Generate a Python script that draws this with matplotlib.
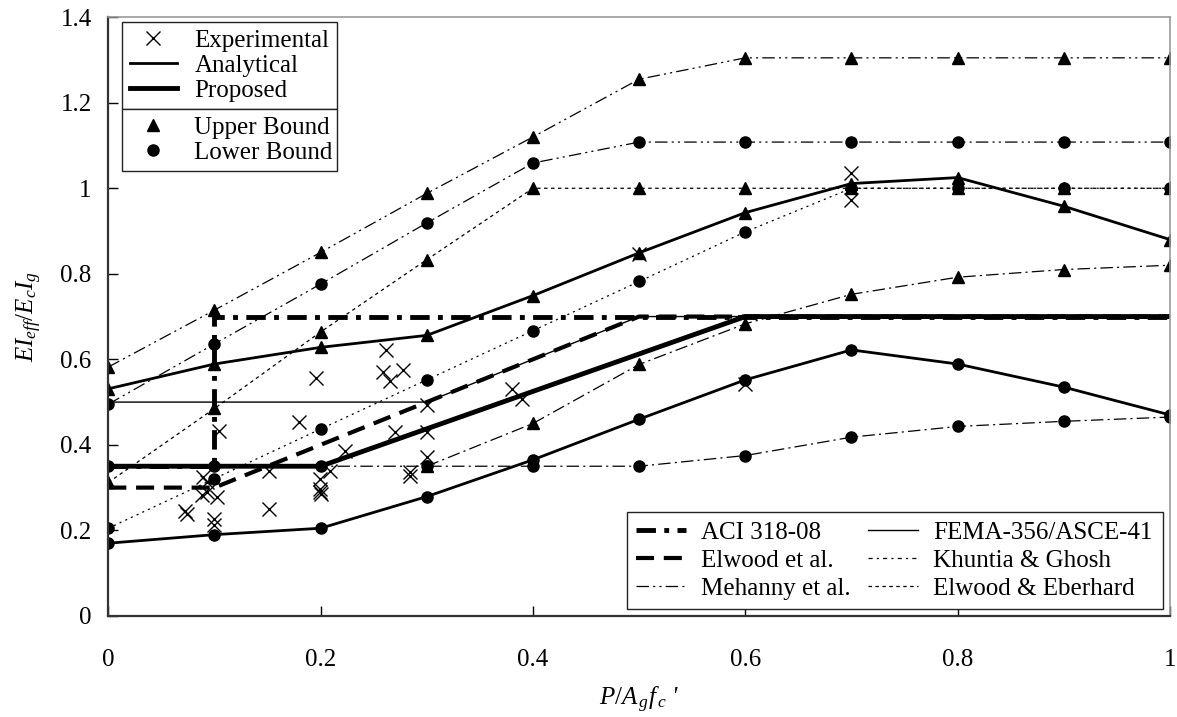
import matplotlib
matplotlib.use("Agg")
import matplotlib.pyplot as plt
from matplotlib.lines import Line2D
from matplotlib.ticker import FuncFormatter

plt.rcParams['font.family'] = ['Liberation Serif', 'DejaVu Serif']
plt.rcParams['mathtext.fontset'] = 'custom'
plt.rcParams['mathtext.rm'] = 'Liberation Serif'
plt.rcParams['mathtext.it'] = 'Liberation Serif:italic'
plt.rcParams['lines.scale_dashes'] = False

# axial load ratio grid used by the bound curves
p_ratio = [0, 0.1, 0.2, 0.3, 0.4, 0.5, 0.6, 0.7, 0.8, 0.9, 1.0]

# analytical bounds
analytical_upper = [0.531, 0.589, 0.628, 0.656, 0.749, 0.849, 0.943, 1.011, 1.025, 0.958, 0.88]
analytical_lower = [0.17, 0.19, 0.205, 0.279, 0.365, 0.46, 0.552, 0.622, 0.589, 0.535, 0.47]

# Mehanny et al.
mehanny_upper = [0.582, 0.715, 0.85, 0.988, 1.12, 1.255, 1.305, 1.305, 1.305, 1.305, 1.305]
mehanny_lower = [0.495, 0.636, 0.776, 0.919, 1.059, 1.108, 1.108, 1.108, 1.108, 1.108, 1.108]

# Elwood & Eberhard
ee_upper = [0.312, 0.485, 0.664, 0.833, 1.0, 1.0, 1.0, 1.0, 1.0, 1.0, 1.0]
ee_lower = [0.205, 0.321, 0.437, 0.552, 0.667, 0.782, 0.898, 1.0, 1.0, 1.0, 1.0]

# Khuntia & Ghosh
kg_upper_x = [0.3, 0.4, 0.5, 0.6, 0.7, 0.8, 0.9, 1.0]
kg_upper = [0.35, 0.45, 0.588, 0.683, 0.752, 0.792, 0.81, 0.82]
kg_lower = [0.35, 0.35, 0.35, 0.35, 0.35, 0.35, 0.375, 0.418, 0.443, 0.455, 0.465]

# code / proposed step models
proposed_x = [0, 0.2, 0.6, 1.0]
proposed_y = [0.35, 0.35, 0.7, 0.7]
aci_x = [0, 0.1, 0.1, 1.0]
aci_y = [0.35, 0.35, 0.7, 0.7]
elwood_x = [0, 0.1, 0.5, 1.0]
elwood_y = [0.3, 0.3, 0.7, 0.7]
fema_x = [0, 0.3, 0.5, 1.0]
fema_y = [0.5, 0.5, 0.7, 0.7]

# experimental results
exp_x = [0.072, 0.074, 0.089, 0.093, 0.088, 0.093, 0.102, 0.1, 0.1, 0.104,
         0.151, 0.151, 0.18, 0.196, 0.199, 0.199, 0.199, 0.2, 0.209, 0.223,
         0.259, 0.262, 0.265, 0.27, 0.278, 0.284, 0.284, 0.3, 0.3, 0.3,
         0.38, 0.39, 0.5, 0.6, 0.7, 0.7]
exp_y = [0.246, 0.238, 0.324, 0.312, 0.283, 0.289, 0.278, 0.226, 0.212, 0.432,
         0.338, 0.249, 0.453, 0.557, 0.32, 0.297, 0.289, 0.284, 0.34, 0.386,
         0.57, 0.622, 0.55, 0.429, 0.574, 0.336, 0.328, 0.494, 0.429, 0.372,
         0.531, 0.508, 0.847, 0.543, 1.036, 0.972]

fig = plt.figure(figsize=(11.77, 7.17), dpi=100)
ax = fig.add_axes([0.092, 0.141, 0.902, 0.835])

thin = 0.9
ms_tri = 8.5
ms_cir = 8
dash_dot_dot = (9, 3, 1.5, 3, 1.5, 3)
dash_dot = (9, 3, 1.5, 3)

# bound curves
ax.plot(p_ratio, mehanny_upper, color='black', lw=thin, dashes=dash_dot_dot, marker='^', ms=ms_tri)
ax.plot(p_ratio, mehanny_lower, color='black', lw=thin, dashes=dash_dot_dot, marker='o', ms=ms_cir)
ax.plot(p_ratio, ee_upper, color='black', lw=thin, dashes=(2.5, 2.5), marker='^', ms=ms_tri)
ax.plot(p_ratio, ee_lower, color='black', lw=thin, dashes=(1.5, 3), marker='o', ms=ms_cir)
ax.plot(kg_upper_x, kg_upper, color='black', lw=thin, dashes=dash_dot, marker='^', ms=ms_tri)
ax.plot(p_ratio, kg_lower, color='black', lw=thin, dashes=dash_dot, marker='o', ms=ms_cir)
ax.plot(p_ratio, analytical_upper, color='black', lw=2.0, marker='^', ms=ms_tri)
ax.plot(p_ratio, analytical_lower, color='black', lw=2.0, marker='o', ms=ms_cir)

# step models
ax.plot(fema_x, fema_y, color='black', lw=1.0)
ax.plot(elwood_x, elwood_y, color='black', lw=3.0, dashes=(13, 7))
ax.plot(aci_x, aci_y, color='black', lw=3.5, dashes=(14, 6, 3.5, 6))
ax.plot(proposed_x, proposed_y, color='black', lw=3.5, solid_capstyle='butt')

ax.plot(exp_x, exp_y, ls='none', marker='x', color='black', ms=10, mew=1.0)

ax.set_xlim(0, 1)
ax.set_ylim(0, 1.4)
ax.set_xticks([0, 0.2, 0.4, 0.6, 0.8, 1.0])
ax.set_yticks([0, 0.2, 0.4, 0.6, 0.8, 1.0, 1.2, 1.4])
fmt = FuncFormatter(lambda v, pos: f"{v:g}")
ax.xaxis.set_major_formatter(fmt)
ax.yaxis.set_major_formatter(fmt)
ax.tick_params(direction='in', length=7, width=1, labelsize=18, top=False, right=False)
ax.tick_params(axis='y', pad=12)
ax.tick_params(axis='x', pad=24)
for side in ['left', 'bottom']:
    ax.spines[side].set_color('#333333')
    ax.spines[side].set_linewidth(1.6)
for side in ['top', 'right']:
    ax.spines[side].set_color('#999999')
    ax.spines[side].set_linewidth(1.2)

ax.set_xlabel(r"$P/A_{\,g}f_{\,c}$ '", fontsize=18, fontstyle='italic', labelpad=10)
ax.set_ylabel(r"$EI_{eff}/E_{c}I_{g}$", fontsize=18, labelpad=12)

leg_kw = dict(frameon=True, fancybox=False, framealpha=1, edgecolor='#222222',
              fontsize=18, handlelength=1.9, handletextpad=0.7,
              borderaxespad=0, mode='expand')

top_handles = [
    Line2D([], [], ls='none', marker='x', color='black', ms=10, mew=1.0),
    Line2D([], [], color='black', lw=2.0),
    Line2D([], [], color='black', lw=3.5),
]
leg1 = ax.legend(top_handles, ['Experimental', 'Analytical', 'Proposed'],
                 loc='upper left', bbox_to_anchor=(0.0127, 0.992, 0.2023, 0.0),
                 borderpad=0.31, labelspacing=0.09, **leg_kw)
leg1.get_frame().set_linewidth(1.0)
ax.add_artist(leg1)

bound_handles = [
    Line2D([], [], ls='none', marker='^', color='black', ms=ms_tri),
    Line2D([], [], ls='none', marker='o', color='black', ms=ms_cir),
]
leg2 = ax.legend(bound_handles, ['Upper Bound', 'Lower Bound'],
                 loc='upper left', bbox_to_anchor=(0.0127, 0.846, 0.2023, 0.0),
                 borderpad=0.28, labelspacing=0.09, **leg_kw)
leg2.get_frame().set_linewidth(1.0)
ax.add_artist(leg2)

# column-major order: left column ACI / Elwood / Mehanny, right column FEMA / Khuntia / E&E
model_handles = [
    Line2D([], [], color='black', lw=3.5, dashes=(14, 6, 3.5, 6)),
    Line2D([], [], color='black', lw=3.0, dashes=(13, 7)),
    Line2D([], [], color='black', lw=thin, dashes=dash_dot_dot),
    Line2D([], [], color='black', lw=1.0),
    Line2D([], [], color='black', lw=thin, dashes=(3, 3, 1.5, 3)),
    Line2D([], [], color='black', lw=thin, dashes=(2.5, 2.5)),
]
model_labels = ['ACI 318-08', 'Elwood et al.', 'Mehanny et al.',
                'FEMA-356/ASCE-41', 'Khuntia & Ghosh', 'Elwood & Eberhard']
leg3 = ax.legend(model_handles, model_labels, ncol=2, loc='lower right',
                 bbox_to_anchor=(0.993, 0.011), frameon=True, fancybox=False,
                 framealpha=1, edgecolor='#222222', fontsize=18, handlelength=2.0,
                 handletextpad=0.6, borderpad=0.39, labelspacing=0.21, borderaxespad=0,
                 columnspacing=0.7)
leg3.get_frame().set_linewidth(1.0)

fig.savefig('out.png', dpi=100)
